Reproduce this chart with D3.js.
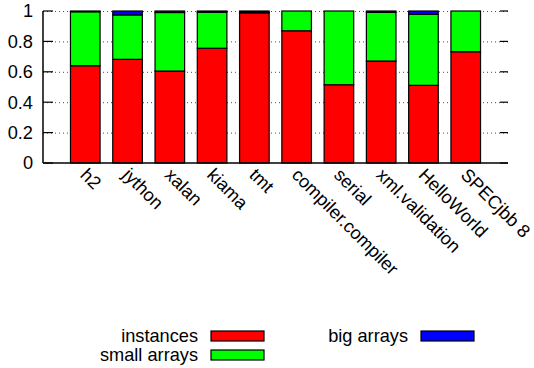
<!DOCTYPE html>
<html><head><meta charset="utf-8">
<script src="https://cdn.jsdelivr.net/npm/d3@7"></script>
<style>body{margin:0;background:#fff}svg{display:block;font-family:"Liberation Sans",Arial,sans-serif}</style>
</head><body><svg id="c" width="534" height="368"></svg>
<script>
const categories = ["h2","jython","xalan","kiama","tmt","compiler.compiler","serial","xml.validation","HelloWorld","SPECjbb 8"];
const instances   = [0.640,0.682,0.605,0.755,0.988,0.870,0.515,0.671,0.511,0.732];
const smallArrays = [0.355,0.292,0.385,0.237,0.004,0.130,0.485,0.320,0.467,0.268];
const bigArrays   = [0.005,0.026,0.010,0.008,0.008,0.000,0.000,0.009,0.022,0.000];
const seriesNames = ["instances","small arrays","big arrays"];
const seriesColors = ["#ff0000","#00ff00","#0000ff"];
const yTicks = [0,0.2,0.4,0.6,0.8,1];
const yTickLabels = ["0","0.2","0.4","0.6","0.8","1"];

const svg = d3.select("#c");
const L=43, R=508, T=11, B=163;
const x = d3.scaleLinear().domain([-1,10]).range([L,R]);
const y = d3.scaleLinear().domain([0,1]).range([B,T]);
const bw = x(0.7)-x(0);
const fs = 18.2;

// grid
yTicks.forEach(t=>{
  svg.append("line").attr("x1",L).attr("x2",R).attr("y1",y(t)+0.5).attr("y2",y(t)+0.5)
    .attr("stroke","#000").attr("stroke-width",1).attr("stroke-dasharray","1,3").attr("opacity",t===0?0:0.7);
});

const data = categories.map((c,i)=>({c,i,vals:[instances[i],smallArrays[i],bigArrays[i]]}));
data.forEach(d=>{
  let acc=0;
  d.vals.forEach((v,k)=>{
    if(v<=0){return;}
    const y0=acc, y1=acc+v; acc=y1;
    svg.append("rect").attr("x",x(d.i)-bw/2).attr("width",bw)
      .attr("y",y(y1)).attr("height",y(y0)-y(y1))
      .attr("fill",seriesColors[k]).attr("stroke","#000").attr("stroke-width",1.2);
  });
});

// axes
svg.append("line").attr("x1",L).attr("x2",L).attr("y1",T).attr("y2",B).attr("stroke","#000").attr("stroke-width",1.5);
svg.append("line").attr("x1",L).attr("x2",R).attr("y1",B).attr("y2",B).attr("stroke","#000").attr("stroke-width",1.5);
yTicks.forEach((t,i)=>{
  svg.append("line").attr("x1",L).attr("x2",L+10).attr("y1",y(t)).attr("y2",y(t)).attr("stroke","#000").attr("stroke-width",1.2);
  svg.append("line").attr("x1",R-8).attr("x2",R).attr("y1",y(t)).attr("y2",y(t)).attr("stroke","#000").attr("stroke-width",1.2);
  svg.append("text").attr("x",33).attr("y",y(t)).attr("dy","0.35em").attr("text-anchor","end")
    .attr("font-size",fs).text(yTickLabels[i]);
});

// category labels
categories.forEach((c,i)=>{
  svg.append("text").attr("transform",`translate(${x(i)-6},${B+13}) rotate(45)`)
    .attr("font-size",fs).text(c);
});

// legend
const leg = [
  {name:seriesNames[0],color:seriesColors[0],tx:198,bx:211,by:331},
  {name:seriesNames[1],color:seriesColors[1],tx:198,bx:211,by:350},
  {name:seriesNames[2],color:seriesColors[2],tx:408,bx:421,by:331}
];
leg.forEach(l=>{
  svg.append("text").attr("x",l.tx).attr("y",l.by+5).attr("dy","0.35em").attr("text-anchor","end").attr("font-size",fs).text(l.name);
  svg.append("rect").attr("x",l.bx).attr("y",l.by).attr("width",53).attr("height",10)
    .attr("fill",l.color).attr("stroke","#000").attr("stroke-width",1.2);
});
</script></body></html>
